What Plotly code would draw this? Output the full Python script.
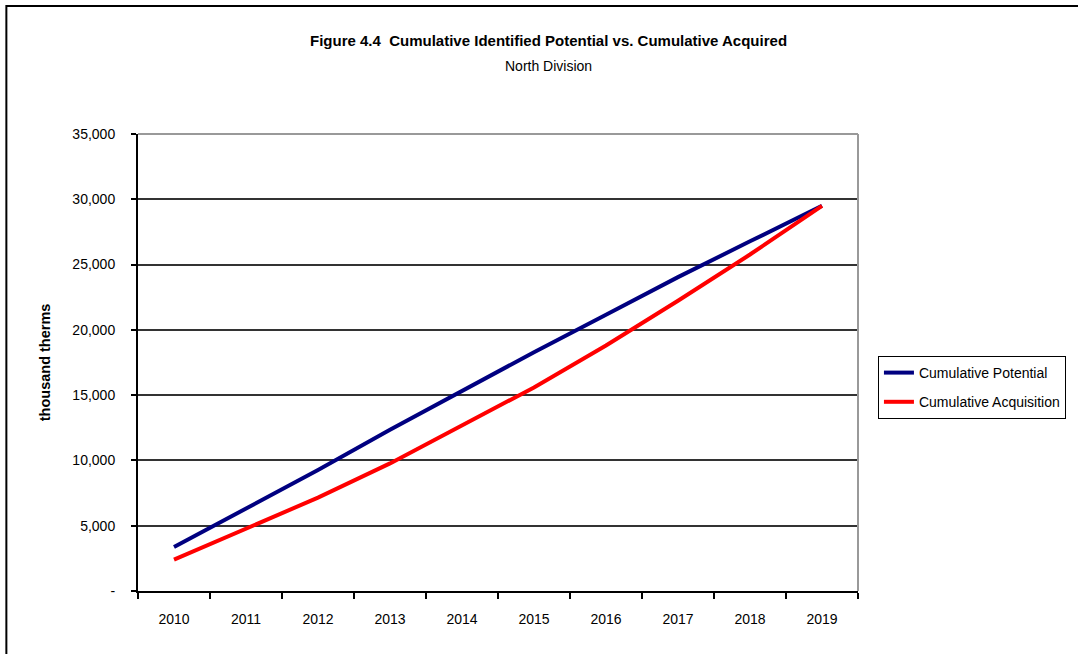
import plotly.graph_objects as go

years = ["2010", "2011", "2012", "2013", "2014", "2015", "2016", "2017", "2018", "2019"]
cumulative_potential = [3370, 6330, 9260, 12340, 15350, 18290, 21160, 24040, 26780, 29500]
cumulative_acquisition = [2400, 4810, 7150, 9770, 12710, 15590, 18800, 22230, 25770, 29500]
y_tick_vals = [0, 5000, 10000, 15000, 20000, 25000, 30000, 35000]
y_tick_text = ["-", "5,000", "10,000", "15,000", "20,000", "25,000", "30,000", "35,000"]

FONT = "Liberation Sans, Arial, sans-serif"

fig = go.Figure()
fig.add_trace(go.Scatter(x=years, y=cumulative_potential, mode="lines",
                         name="Cumulative Potential", legendgroup="a",
                         line=dict(color="#000080", width=4)))
fig.add_trace(go.Scatter(x=years, y=cumulative_acquisition, mode="lines",
                         name="Cumulative Acquisition", legendgroup="b",
                         line=dict(color="#FF0000", width=4)))

L, R, T, B = 138, 1078 - 860, 134, 654 - 591
W, H = 1078, 654
pw, ph = W - L - R, H - T - B

def px_x(px):
    return (px - L) / pw

def px_y(py):
    return (H - B - py) / ph

fig.update_layout(
    width=W, height=H,
    margin=dict(l=L, r=R, t=T, b=B, pad=0),
    paper_bgcolor="white", plot_bgcolor="white",
    font=dict(family=FONT, size=14, color="black"),
    showlegend=True,
    legend=dict(x=px_x(880), y=px_y(356), xanchor="left", yanchor="top",
                bordercolor="black", borderwidth=1, bgcolor="white",
                tracegroupgap=8, font=dict(size=14, family=FONT),
                itemwidth=30, entrywidth=185, entrywidthmode="pixels"),
    xaxis=dict(type="category", range=[-0.5, 9.5], tickson="boundaries",
               ticks="outside", ticklen=6, tickcolor="black", tickwidth=1.5,
               showline=True, linecolor="black", linewidth=2,
               showgrid=False, zeroline=False, ticklabelstandoff=14,
               tickfont=dict(size=14)),
    yaxis=dict(range=[0, 35000], tickvals=y_tick_vals, ticktext=y_tick_text,
               ticks="outside", ticklen=5, tickcolor="black", tickwidth=1.5,
               showline=True, linecolor="black", linewidth=2,
               showgrid=True, gridcolor="#333333", gridwidth=1.5,
               zeroline=False, ticklabelstandoff=13,
               tickfont=dict(size=14)),
    shapes=[
        dict(type="line", xref="paper", yref="paper", x0=0, x1=1, y0=1, y1=1,
             line=dict(color="#999999", width=2)),
        dict(type="line", xref="paper", yref="paper", x0=1, x1=1, y0=0, y1=1,
             line=dict(color="#999999", width=2)),
        dict(type="rect", xref="paper", yref="paper",
             x0=px_x(6), x1=px_x(1100), y0=px_y(700), y1=px_y(6),
             line=dict(color="black", width=2), fillcolor="rgba(0,0,0,0)"),
    ],
    annotations=[
        dict(text="<b>Figure 4.4  Cumulative Identified Potential vs. Cumulative Acquired</b>",
             xref="paper", yref="paper", x=px_x(550), y=px_y(40),
             xanchor="center", yanchor="middle", showarrow=False,
             font=dict(size=15, family=FONT)),
        dict(text="North Division",
             xref="paper", yref="paper", x=px_x(550), y=px_y(66),
             xanchor="center", yanchor="middle", showarrow=False,
             font=dict(size=14, family=FONT)),
        dict(text="<b>thousand therms</b>",
             xref="paper", yref="paper", x=px_x(45), y=px_y(362),
             xanchor="center", yanchor="middle", showarrow=False, textangle=-90,
             font=dict(size=14.5, family=FONT)),
    ],
)

fig.write_html("out.html", config={"displayModeBar": False},
               post_script="document.body.style.margin='0';")
